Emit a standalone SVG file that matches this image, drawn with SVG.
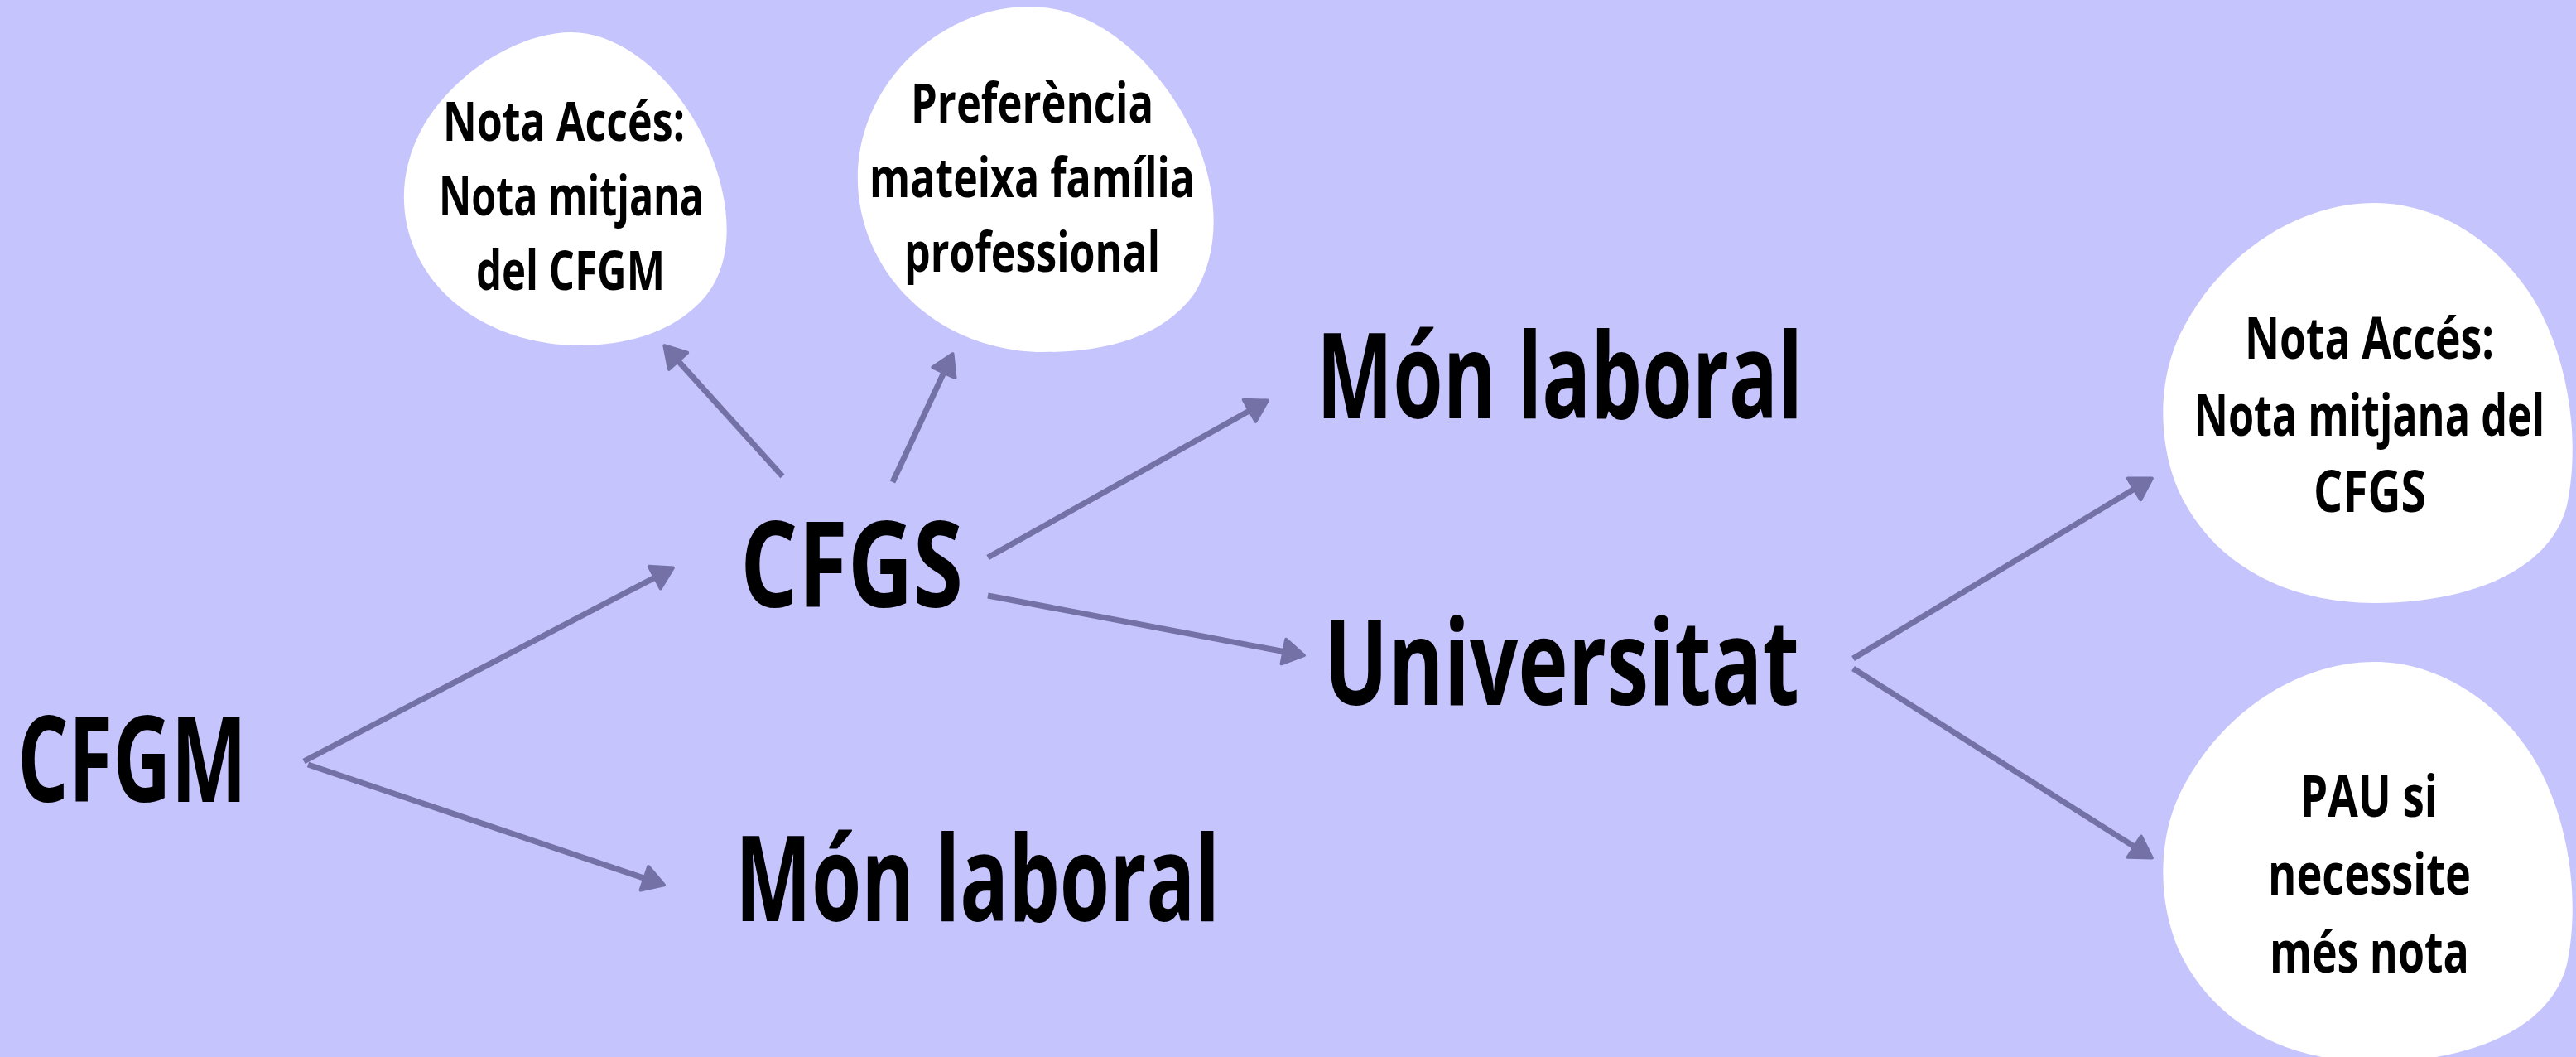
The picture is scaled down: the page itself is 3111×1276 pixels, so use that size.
<svg xmlns="http://www.w3.org/2000/svg" width="3111" height="1276" viewBox="0 0 3111 1276">
  <style>
    .bg { fill: #C6C4FD; }
    .blob { fill: #FFFFFF; }
    .t { font-family: "Open Sans", "Liberation Sans", sans-serif; font-weight: 700; fill: #000000; }
    .main { font-size: 144px; }
    .small { font-size: 67px; }
    .small2 { font-size: 70px; }
    .conn { stroke: #7471A7; stroke-width: 7; fill: none; stroke-linecap: butt; marker-end: url(#arrow); }
  </style>
  <defs>
    <marker id="arrow" markerUnits="userSpaceOnUse" markerWidth="40" markerHeight="40" refX="4" refY="15" orient="auto" overflow="visible">
      <path d="M 0 0 L 25 15 L 0 30 Z" fill="#7471A7" stroke="#7471A7" stroke-width="4" stroke-linejoin="round"/>
    </marker>
  </defs>
  <rect class="bg" x="0" y="0" width="3111" height="1276"/>

  <g id="connectors">
    <line class="conn" x1="367" y1="919" x2="794.3" y2="695.3"/>
    <line class="conn" x1="372" y1="923" x2="782.1" y2="1061.6"/>
    <line class="conn" x1="945" y1="575" x2="816.4" y2="432.8"/>
    <line class="conn" x1="1078" y1="582" x2="1141.6" y2="446.1"/>
    <line class="conn" x1="1193" y1="673" x2="1512.6" y2="493.8"/>
    <line class="conn" x1="1193" y1="719" x2="1554.3" y2="787.3"/>
    <line class="conn" x1="2238" y1="795" x2="2580.9" y2="588.3"/>
    <line class="conn" x1="2238" y1="807" x2="2581.1" y2="1024.3"/>
  </g>

  <g id="node-cfgm">
    <text class="t main" transform="translate(21 968) scale(0.73 1)" x="0" y="0" textLength="379.5" lengthAdjust="spacingAndGlyphs">CFGM</text>
  </g>
  <g id="node-cfgs">
    <text class="t main" transform="translate(894 733) scale(0.73 1)" x="0" y="0" textLength="368.5" lengthAdjust="spacingAndGlyphs">CFGS</text>
  </g>
  <g id="node-mon-laboral-1">
    <text class="t main" transform="translate(888 1112) scale(0.73 1)" x="0" y="0" textLength="801.4" lengthAdjust="spacingAndGlyphs">Món laboral</text>
  </g>
  <g id="node-mon-laboral-2">
    <text class="t main" transform="translate(1590 505) scale(0.73 1)" x="0" y="0" textLength="804.1" lengthAdjust="spacingAndGlyphs">Món laboral</text>
  </g>
  <g id="node-universitat">
    <text class="t main" transform="translate(1599 851) scale(0.73 1)" x="0" y="0" textLength="786.3" lengthAdjust="spacingAndGlyphs">Universitat</text>
  </g>

  <g id="node-nota-cfgm">
    <path class="blob" d="M 690 39 C 760 39 830 110 860 190 C 885 255 885 320 850 360 C 810 405 750 417 700 417 C 620 417 540 380 505 310 C 475 250 485 180 530 125 C 575 70 640 39 690 39 Z"/>
    <text class="t small" transform="translate(535 170) scale(0.73 1)" x="0" y="0" textLength="400" lengthAdjust="spacingAndGlyphs">Nota Accés:</text>
    <text class="t small" transform="translate(530 260) scale(0.73 1)" x="0" y="0" textLength="438.4" lengthAdjust="spacingAndGlyphs">Nota mitjana</text>
    <text class="t small" transform="translate(575 350) scale(0.73 1)" x="0" y="0" textLength="312.3" lengthAdjust="spacingAndGlyphs">del CFGM</text>
  </g>

  <g id="node-preferencia">
    <path class="blob" d="M 1243 8 C 1335 8 1410 90 1445 170 C 1472 235 1474 305 1442 355 C 1402 410 1330 425 1260 425 C 1180 425 1100 385 1060 310 C 1025 245 1025 160 1080 90 C 1120 40 1180 8 1243 8 Z"/>
    <text class="t small" transform="translate(1100 148) scale(0.73 1)" x="0" y="0" textLength="401.4" lengthAdjust="spacingAndGlyphs">Preferència</text>
    <text class="t small" transform="translate(1050 238) scale(0.73 1)" x="0" y="0" textLength="538.4" lengthAdjust="spacingAndGlyphs">mateixa família</text>
    <text class="t small" transform="translate(1092 328) scale(0.73 1)" x="0" y="0" textLength="423.3" lengthAdjust="spacingAndGlyphs">professional</text>
  </g>

  <g id="node-nota-cfgs">
    <path class="blob" d="M 2868 245 C 2950 245 3030 300 3070 380 C 3105 450 3115 540 3100 610 C 3080 690 2980 728 2868 728 C 2760 728 2670 680 2630 590 C 2605 530 2605 450 2640 390 C 2690 300 2780 245 2868 245 Z"/>
    <text class="t small2" transform="translate(2711 433) scale(0.73 1)" x="0" y="0" textLength="412.3" lengthAdjust="spacingAndGlyphs">Nota Accés:</text>
    <text class="t small2" transform="translate(2650 526) scale(0.73 1)" x="0" y="0" textLength="579.5" lengthAdjust="spacingAndGlyphs">Nota mitjana del</text>
    <text class="t small2" transform="translate(2794 618) scale(0.73 1)" x="0" y="0" textLength="186.3" lengthAdjust="spacingAndGlyphs">CFGS</text>
  </g>

  <g id="node-pau">
    <path class="blob" d="M 2868 799 C 2950 799 3030 854 3070 934 C 3105 1004 3115 1094 3100 1164 C 3080 1244 2980 1282 2868 1282 C 2760 1282 2670 1234 2630 1144 C 2605 1084 2605 1004 2640 944 C 2690 854 2780 799 2868 799 Z"/>
    <text class="t small2" transform="translate(2778 986) scale(0.73 1)" x="0" y="0" textLength="227.4" lengthAdjust="spacingAndGlyphs">PAU si</text>
    <text class="t small2" transform="translate(2739 1080) scale(0.73 1)" x="0" y="0" textLength="335.6" lengthAdjust="spacingAndGlyphs">necessite</text>
    <text class="t small2" transform="translate(2741 1174) scale(0.73 1)" x="0" y="0" textLength="330.1" lengthAdjust="spacingAndGlyphs">més nota</text>
  </g>
</svg>
